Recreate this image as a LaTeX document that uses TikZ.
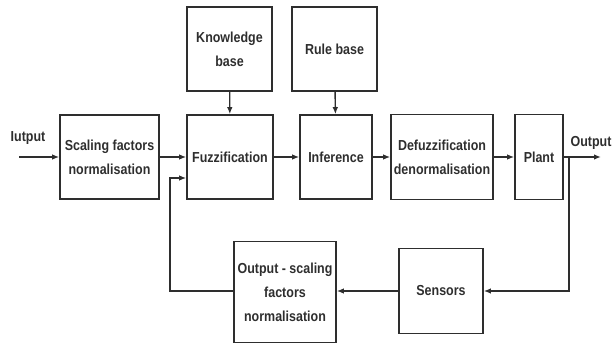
\documentclass[tikz,border=0pt]{standalone}
\usepackage{fontspec}
\setmainfont{Liberation Sans}[FakeStretch=0.86]
\usetikzlibrary{arrows.meta}

\begin{document}
\begin{tikzpicture}[x=1pt,y=-1pt,>={Latex[length=7pt,width=5.5pt]},
	font=\bfseries\fontsize{14.5}{24}\selectfont,
	color=black!82,line width=1.4pt,
	block/.style={draw,line width=1.6pt,align=center,inner sep=1pt}]

	\useasboundingbox (0,0) rectangle (615,344);

	% upper row
	\node [block,minimum width=85pt,minimum height=84pt] (know) at (229.5,49) {Knowledge\\base};
	\node [block,minimum width=85pt,minimum height=84pt] (rule) at (334.5,49) {Rule base};

	% main chain
	\node [block,minimum width=99pt,minimum height=84pt] (scal) at (109.5,157) {Scaling factors\\normalisation};
	\node [block,minimum width=86pt,minimum height=84pt] (fuzz) at (230,157) {Fuzzification};
	\node [block,minimum width=72pt,minimum height=84pt] (infer) at (336,157) {Inference};
	\node [block,minimum width=102pt,minimum height=85pt] (defuzz) at (442,157) {Defuzzification\\denormalisation};
	\node [block,minimum width=48pt,minimum height=85pt] (plant) at (539,157) {Plant};

	% feedback row
	\node [block,minimum width=84pt,minimum height=85pt] (sens) at (441,291) {Sensors};
	\node [block,minimum width=102pt,minimum height=101pt] (outsc) at (285,292) {Output - scaling\\factors\\normalisation};

	% labels
	\node (inlbl) at (28,138) {Iutput};
	\node (outlbl) at (591,143) {Output};

	\coordinate (in) at (19,157);
	\coordinate (out) at (601,157);
	\coordinate (br) at (569,157);
	\coordinate (fb) at (170,178);

	\draw [->] (in) -- (scal.west);
	\draw [->] (scal) -- (fuzz);
	\draw [->] (fuzz) -- (infer);
	\draw [->] (infer) -- (defuzz);
	\draw [->] (defuzz) -- (plant);
	\draw [->] (plant.east) -- (out);
	\draw [->] (know) -- (fuzz);
	\draw [->] (rule) -- (infer);

	% feedback loop
	\draw [->] (br) |- (sens.east);
	\draw [->] (sens.west) -- (outsc.east |- sens.west);
	\draw [->] (outsc.west |- sens.west) -| (fb) -- (fuzz.west |- fb);
\end{tikzpicture}
\end{document}
